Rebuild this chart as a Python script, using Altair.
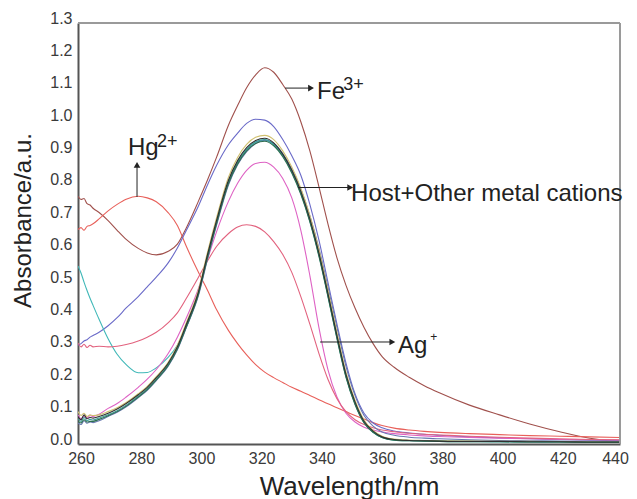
import altair as alt
import pandas as pd

WL = [260, 261, 262, 263, 264, 265, 267, 270, 273, 276, 280, 283, 286, 290, 293, 296,
      300, 303, 306, 310, 313, 316, 319, 322, 325, 328, 331, 334, 337, 340, 343, 346,
      349, 352, 355, 358, 361, 365, 370, 375, 380, 390, 400, 410, 420, 430, 440]

fe = [0.765, 0.755, 0.758, 0.742, 0.738, 0.728, 0.715, 0.69, 0.66, 0.632, 0.604, 0.59, 0.584, 0.595, 0.617, 0.668,
      0.75, 0.815, 0.885, 0.985, 1.045, 1.1, 1.14, 1.162, 1.148, 1.11, 1.065, 0.995, 0.905, 0.795, 0.68, 0.575,
      0.49, 0.42, 0.36, 0.31, 0.27, 0.237, 0.206, 0.18, 0.158, 0.12, 0.09, 0.062, 0.038, 0.018, 0.007]

hg = [0.662, 0.668, 0.66, 0.672, 0.675, 0.68, 0.695, 0.72, 0.74, 0.756, 0.765, 0.76, 0.748, 0.714, 0.675, 0.61,
      0.53, 0.475, 0.415, 0.35, 0.31, 0.275, 0.245, 0.222, 0.205, 0.19, 0.175, 0.163, 0.15, 0.137, 0.124, 0.112,
      0.1, 0.088, 0.077, 0.066, 0.057, 0.049, 0.043, 0.039, 0.036, 0.032, 0.029, 0.026, 0.024, 0.022, 0.02]

blue = [0.305, 0.31, 0.318, 0.322, 0.33, 0.335, 0.345, 0.365, 0.39, 0.42, 0.455, 0.485, 0.515, 0.56, 0.605, 0.66,
        0.735, 0.8, 0.86, 0.925, 0.96, 0.99, 1.003, 1.0, 0.98, 0.94, 0.89, 0.83, 0.74, 0.63, 0.5, 0.37,
        0.25, 0.155, 0.095, 0.065, 0.05, 0.04, 0.034, 0.03, 0.027, 0.022, 0.019, 0.016, 0.014, 0.012, 0.011]

cyan = [0.55, 0.528, 0.5, 0.474, 0.45, 0.428, 0.385, 0.325, 0.277, 0.245, 0.22, 0.221, 0.235, 0.268, 0.305, 0.362,
        0.466, 0.58, 0.686, 0.81, 0.87, 0.91, 0.932, 0.938, 0.924, 0.89, 0.84, 0.774, 0.688, 0.583, 0.458, 0.328,
        0.208, 0.124, 0.066, 0.036, 0.02, 0.013, 0.011, 0.01, 0.009, 0.008, 0.007, 0.007, 0.006, 0.006, 0.005]

magenta = [0.09, 0.078, 0.085, 0.08, 0.088, 0.085, 0.092, 0.11, 0.125, 0.145, 0.175, 0.2, 0.23, 0.28, 0.33, 0.39,
           0.48, 0.57, 0.655, 0.75, 0.805, 0.845, 0.866, 0.87, 0.855, 0.82, 0.76, 0.66, 0.52, 0.36, 0.23, 0.145,
           0.095, 0.068, 0.052, 0.043, 0.037, 0.032, 0.028, 0.025, 0.023, 0.02, 0.018, 0.016, 0.014, 0.013, 0.012]

ag = [0.312, 0.3, 0.308, 0.298, 0.305, 0.3, 0.302, 0.3, 0.302, 0.307, 0.318, 0.33, 0.345, 0.375, 0.405, 0.45,
      0.515, 0.565, 0.61, 0.65, 0.67, 0.677, 0.672, 0.655, 0.625, 0.585, 0.53, 0.455, 0.37, 0.28, 0.2, 0.14,
      0.1, 0.075, 0.06, 0.05, 0.043, 0.038, 0.033, 0.03, 0.028, 0.024, 0.021, 0.018, 0.016, 0.014, 0.013]

host_a = [0.085, 0.075, 0.09, 0.078, 0.082, 0.08, 0.085, 0.095, 0.108, 0.125, 0.152, 0.175, 0.205, 0.25, 0.3, 0.37,
          0.47, 0.585, 0.69, 0.815, 0.875, 0.915, 0.937, 0.944, 0.93, 0.895, 0.845, 0.78, 0.695, 0.59, 0.465, 0.335,
          0.215, 0.13, 0.07, 0.04, 0.022, 0.014, 0.011, 0.01, 0.009, 0.008, 0.008, 0.007, 0.007, 0.006, 0.006]

host_b = [0.1, 0.088, 0.095, 0.085, 0.09, 0.088, 0.09, 0.1, 0.112, 0.128, 0.155, 0.178, 0.208, 0.253, 0.305, 0.375,
          0.476, 0.592, 0.698, 0.825, 0.885, 0.925, 0.947, 0.953, 0.94, 0.905, 0.855, 0.79, 0.705, 0.6, 0.475, 0.345,
          0.222, 0.135, 0.074, 0.042, 0.024, 0.015, 0.012, 0.011, 0.01, 0.009, 0.008, 0.008, 0.007, 0.007, 0.006]

host_c = [0.078, 0.07, 0.082, 0.072, 0.076, 0.074, 0.08, 0.09, 0.103, 0.12, 0.148, 0.171, 0.2, 0.246, 0.296, 0.366,
          0.466, 0.58, 0.685, 0.81, 0.87, 0.91, 0.933, 0.94, 0.926, 0.892, 0.842, 0.776, 0.69, 0.585, 0.46, 0.33,
          0.21, 0.125, 0.067, 0.037, 0.02, 0.012, 0.01, 0.009, 0.008, 0.007, 0.007, 0.006, 0.006, 0.005, 0.005]

host_d = [0.07, 0.065, 0.075, 0.068, 0.07, 0.07, 0.076, 0.087, 0.1, 0.117, 0.145, 0.168, 0.198, 0.243, 0.293, 0.362,
          0.462, 0.575, 0.68, 0.805, 0.865, 0.905, 0.928, 0.935, 0.921, 0.887, 0.837, 0.771, 0.686, 0.58, 0.455, 0.325,
          0.206, 0.122, 0.065, 0.036, 0.02, 0.012, 0.01, 0.009, 0.008, 0.007, 0.007, 0.006, 0.006, 0.005, 0.005]

host_e = [0.065, 0.06, 0.072, 0.064, 0.068, 0.066, 0.072, 0.085, 0.098, 0.115, 0.143, 0.166, 0.196, 0.241, 0.291, 0.36,
          0.458, 0.57, 0.675, 0.8, 0.862, 0.903, 0.928, 0.938, 0.928, 0.897, 0.85, 0.787, 0.705, 0.605, 0.485, 0.36,
          0.24, 0.15, 0.088, 0.055, 0.037, 0.027, 0.021, 0.018, 0.016, 0.013, 0.011, 0.01, 0.009, 0.008, 0.008]

SERIES = ["Fe3+", "Hg2+", "Blue", "Cyan", "Magenta", "Ag+", "HostE", "HostB", "HostC", "HostD", "HostA"]
VALUES = [fe, hg, blue, cyan, magenta, ag, host_e, host_b, host_c, host_d, host_a]
COLORS = ["#a0504c", "#e8605a", "#6a6ac8", "#40b8b8", "#de62c4", "#e2627e", "#6878b0", "#d0c070", "#3a9c98", "#2e6e50", "#303030"]

X_TICKS = [260, 280, 300, 320, 340, 360, 380, 400, 420, 440]
Y_TICKS = [0, 0.1, 0.2, 0.3, 0.4, 0.5, 0.6, 0.7, 0.8, 0.9, 1.0, 1.1, 1.2, 1.3]

rows = []
for name, vals in zip(SERIES, VALUES):
    for w, v in zip(WL, vals):
        rows.append({"wl": w, "abs": v, "name": name})
df = pd.DataFrame(rows)

x_scale = alt.Scale(domain=[260, 440], nice=False, zero=False)
y_scale = alt.Scale(domain=[0, 1.3], nice=False, zero=False)

FONT = "Liberation Sans"

x_axis = alt.Axis(values=X_TICKS, title="Wavelength/nm",
                  ticks=False, tickSize=0, grid=False, domainColor="#555555", domainWidth=2,
                  labelFont=FONT, labelFontSize=16, labelColor="#3a3a3a", labelPadding=6,
                  labelOffset={"expr": "datum.value == 440 ? -5 : 3"},
                  labelFlush=False, labelOverlap=False, labelBound=False,
                  titleFont=FONT, titleFontSize=26, titleFontWeight="normal",
                  titleColor="#222222", titleY=50, titleBaseline="alphabetic")
y_axis = alt.Axis(values=Y_TICKS, format=".1f",
                  title="Absorbance/a.u.", ticks=False, tickSize=0, grid=False, domainColor="#555555",
                  domainWidth=2, labelFont=FONT, labelFontSize=16, labelColor="#3a3a3a", labelPadding=6,
                  labelOffset=-5, labelFlush=False, labelOverlap=False, labelBound=False,
                  titleFont=FONT, titleFontSize=24, titleFontWeight="normal",
                  titleColor="#222222", titleX=-55, titleY=197, titleAngle=270, titleBaseline="middle")

lines = alt.Chart(df).mark_line(strokeWidth=1.1, clip=True, interpolate="monotone").encode(
    x=alt.X("wl:Q", scale=x_scale, axis=x_axis, title="Wavelength/nm"),
    y=alt.Y("abs:Q", scale=y_scale, axis=y_axis, title="Absorbance/a.u."),
    color=alt.Color("name:N", scale=alt.Scale(domain=SERIES, range=COLORS), legend=None),
)

# frame: top and right borders
top_border = alt.Chart(pd.DataFrame({"a": [0]})).mark_rule(color="#9a9a9a", strokeWidth=2).encode(
    x=alt.value(0), x2=alt.value(542), y=alt.value(0))
right_border = alt.Chart(pd.DataFrame({"a": [0]})).mark_rule(color="#9a9a9a", strokeWidth=2).encode(
    x=alt.value(542), y=alt.value(0), y2=alt.value(421))

XA = alt.X("x:Q", scale=x_scale, axis=x_axis, title="Wavelength/nm")
YA = alt.Y("y:Q", scale=y_scale, axis=y_axis, title="Absorbance/a.u.")

# annotation arrows (data coordinates)
arrow_x = [328.8, 279.6, 333.1, 340.4]
arrow_y = [1.099, 0.763, 0.792, 0.315]
arrow_x2 = [337.0, 279.6, 350.0, 364.0]
arrow_y2 = [1.099, 0.86, 0.792, 0.315]
arr = pd.DataFrame({"x": arrow_x, "y": arrow_y, "x2": arrow_x2, "y2": arrow_y2})
rules = alt.Chart(arr).mark_rule(color="#222222", strokeWidth=1).encode(x=XA, y=YA, x2="x2:Q", y2="y2:Q")

head_r = pd.DataFrame({"x": [337.4, 350.4, 364.4], "y": [1.099, 0.792, 0.315]})
heads_r = alt.Chart(head_r).mark_point(shape="triangle-right", filled=True, size=45, color="#222222", opacity=1).encode(
    x=XA, y=YA)
head_u = pd.DataFrame({"x": [279.6], "y": [0.862]})
heads_u = alt.Chart(head_u).mark_point(shape="triangle-up", filled=True, size=45, color="#222222", opacity=1).encode(
    x=XA, y=YA)

lab_text = ["Fe", "Hg", "Host+Other metal cations", "Ag"]
lab_x = [339.4, 276.6, 350.7, 366.3]
lab_y = [1.065, 0.8925, 0.750, 0.281]
labs = pd.DataFrame({"t": lab_text, "x": lab_x, "y": lab_y})
texts = alt.Chart(labs).mark_text(align="left", baseline="alphabetic", font=FONT, fontSize=24, color="#222222").encode(
    x=XA, y=YA, text="t:N")

sup_text = ["3+", "2+"]
sup_x = [348.1, 286.2]
sup_y = [1.093, 0.917]
sups = pd.DataFrame({"t": sup_text, "x": sup_x, "y": sup_y})
sup_marks = alt.Chart(sups).mark_text(align="left", baseline="alphabetic", font=FONT, fontSize=18, color="#222222").encode(
    x=XA, y=YA, text="t:N")

sup2 = pd.DataFrame({"t": ["+"], "x": [377.0], "y": [0.318]})
sup2_marks = alt.Chart(sup2).mark_text(align="left", baseline="alphabetic", font=FONT, fontSize=12, color="#222222").encode(
    x=XA, y=YA, text="t:N")

chart = alt.layer(lines, top_border, right_border, rules, heads_r, heads_u, texts, sup_marks, sup2_marks).properties(
    width=542, height=421,
    autosize=alt.AutoSizeParams(type="none"),
    padding={"left": 70, "top": 15, "right": 9, "bottom": 55},
    background="white",
).configure_view(stroke=None).configure_axis(labelOverlap=False, labelFlush=False)

chart.save("out.html", embed_options={"renderer": "svg", "actions": False})
